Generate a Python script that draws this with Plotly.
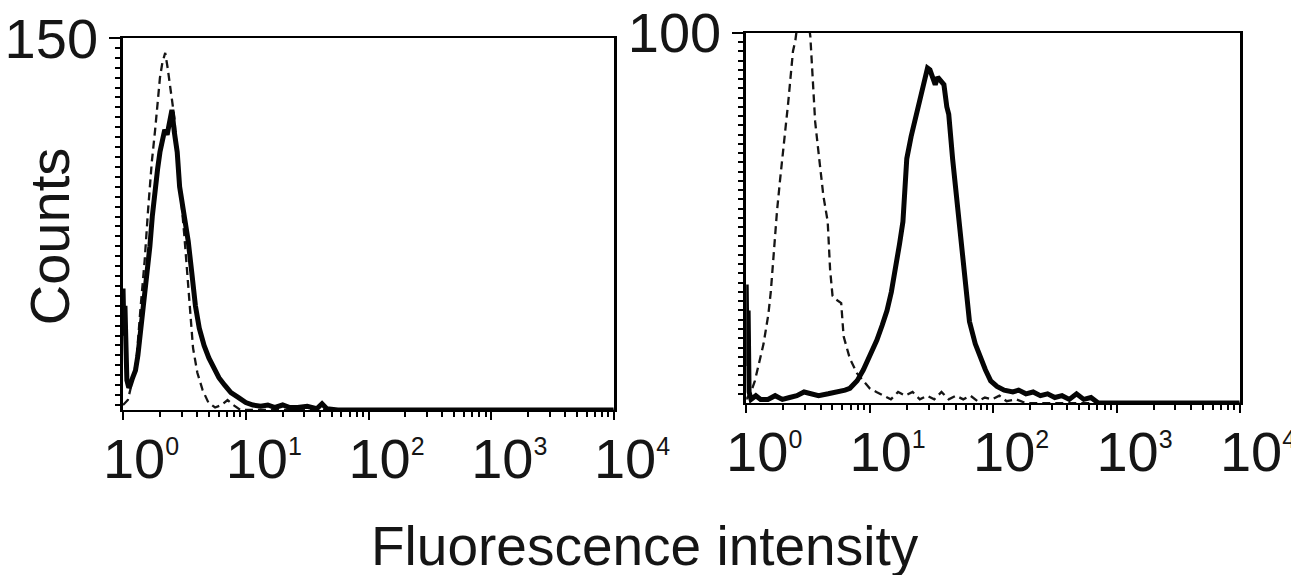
import numpy as np
import plotly.graph_objects as go

# Flow-cytometry histograms on a 4-decade log scale (1024 channels -> 10^0 .. 10^4)
# Each series is given as channel numbers and counts.

# Left panel
left_stained_ch = [0, 2, 4, 6, 8, 12, 15, 20, 26, 31, 36, 41, 46, 51, 56, 61, 67, 72, 77, 82,
                   87, 92, 97, 102, 107, 113, 118, 123, 128, 136, 143, 151, 159, 169, 179, 189,
                   200, 212, 225, 241, 256, 271, 287, 302, 317, 333, 348, 364, 384, 404, 415,
                   425, 448, 1023]
left_stained_counts = [49, 30, 42, 18, 12, 9, 10, 13, 16, 22, 30, 40, 47, 55, 66, 78, 90, 97, 104, 108,
                       113, 111, 116, 121, 112, 104, 90, 84, 77, 68, 56, 42, 33, 26, 21, 17,
                       13, 10, 7, 5, 3, 2, 1.5, 2, 1, 2, 1, 1, 1.5, 0.5, 2.5,
                       0.5, 0, 0]

left_control_ch = [0, 10, 20, 28, 36, 45, 52, 60, 67, 72, 77, 82, 88, 93, 97, 102, 107, 112, 116,
                   122, 128, 134, 140, 146, 155, 166, 178, 192, 205, 218, 230, 245, 1023]
left_control_counts = [2, 4, 12, 20, 40, 60, 80, 100, 113, 125, 134, 140, 144, 138, 132, 126, 118, 105, 97,
                       84, 70, 55, 40, 25, 15, 8, 3, 1, 2, 4, 2, 0, 0]

# Right panel
right_stained_ch = [0, 2, 4, 6, 10, 20, 30, 45, 60, 75, 90, 105, 120, 135, 150, 170, 190, 205, 215,
                    230, 243, 257, 271, 282, 292, 301, 310, 318, 325, 329, 333, 342, 351, 358, 366,
                    371, 376, 381, 386, 392, 397, 403, 410, 416, 420, 428, 438, 451, 463, 475, 486,
                    496, 507, 520, 535, 553, 565, 580, 595, 610, 625, 640, 655, 670, 685, 700, 715,
                    730, 1023]
right_stained_counts = [32, 10, 25, 3, 1, 2, 1, 1, 2, 1, 1.5, 2, 3, 2.5, 2, 2.5, 3, 3.5, 4,
                        6, 9, 13, 17, 21, 25, 30, 36, 43, 49, 58, 66, 72, 77, 81, 85,
                        88, 90.5, 90, 88, 86, 88, 87, 86, 80, 78, 66, 53, 36, 22, 16, 12,
                        9, 6, 4.5, 3.5, 3, 3.5, 2.5, 3, 2, 2.5, 1.5, 2, 1, 2.5, 1, 1.5,
                        0, 0]

right_control_ch = [0, 10, 18, 23, 30, 36, 41, 46, 51, 56, 61, 64, 70, 77, 82, 87, 92, 97, 102, 108,
                    115, 122, 128, 133, 136, 140, 143, 148, 154, 160, 169, 174, 179, 186, 197, 202,
                    215, 230, 243, 256, 270, 285, 300, 315, 330, 345, 360, 375, 390, 405, 420, 435,
                    450, 465, 480, 495, 510, 525, 540, 560, 580, 1023]
right_control_counts = [1, 3, 6, 9, 13, 16, 20, 24, 30, 39, 46, 52, 60, 68, 75, 81, 88, 95, 98, 104,
                        106, 105, 104, 99, 92, 84, 76, 70, 63, 56, 49, 36, 29, 28, 27, 18,
                        12, 8, 6, 4, 3, 2, 1, 3, 2, 3, 1, 2, 1, 3, 1, 2,
                        1, 2, 0.5, 1.5, 1, 2, 0.5, 1, 0, 0]

decades = [0, 1, 2, 3, 4]
left_ymax, right_ymax = 150, 100


def to_intensity(ch):
    return 10 ** (np.asarray(ch, dtype=float) / 256.0)


FONT = "Liberation Sans, Arial, sans-serif"
INK = "#151515"

decade_labels = ["10<sup><span style='font-size:25px'>%d</span></sup>" % d for d in decades]

fig = go.Figure()
solid = dict(color="#050505", width=5.0)
dashed = dict(color="#151515", width=2.3, dash="8px,5px")

fig.add_trace(go.Scatter(x=to_intensity(left_control_ch), y=left_control_counts, mode="lines",
                         line=dashed, xaxis="x", yaxis="y", showlegend=False))
fig.add_trace(go.Scatter(x=to_intensity(left_stained_ch), y=left_stained_counts, mode="lines",
                         line=solid, xaxis="x", yaxis="y", showlegend=False))
fig.add_trace(go.Scatter(x=to_intensity(right_control_ch), y=right_control_counts, mode="lines",
                         line=dashed, xaxis="x2", yaxis="y2", showlegend=False))
fig.add_trace(go.Scatter(x=to_intensity(right_stained_ch), y=right_stained_counts, mode="lines",
                         line=solid, xaxis="x2", yaxis="y2", showlegend=False))

major_x = [10 ** d for d in decades]
minor_x = [m * 10 ** d for d in decades[:-1] for m in range(2, 10)]


def xaxis(domain, anchor):
    return dict(domain=domain, anchor=anchor, type="log", range=[0, 4], automargin=False,
                showline=True, linewidth=2.2, linecolor="black", mirror=True,
                showgrid=False, zeroline=False,
                ticks="outside", ticklen=8, tickwidth=1.6, tickcolor="black",
                tickmode="array", tickvals=major_x, ticktext=decade_labels,
                ticklabelshift=18, ticklabelstandoff=-9, ticklabeloverflow="allow",
                tickfont=dict(family=FONT, size=56, color=INK),
                minor=dict(tickmode="array", tickvals=minor_x, ticks="outside",
                           ticklen=5, tickwidth=1.6, tickcolor="black", showgrid=False))


def yaxis(domain, anchor, ymax, step):
    minor_y = list(np.arange(ymax - step, 0, -step))
    return dict(domain=domain, anchor=anchor, range=[0, ymax], automargin=False,
                showline=True, linewidth=2.6, linecolor="black", mirror=True,
                showgrid=False, zeroline=False,
                ticks="outside", ticklen=11, tickwidth=1.8, tickcolor="black",
                tickmode="array", tickvals=[ymax], ticktext=[str(ymax)],
                tickfont=dict(family=FONT, size=56, color=INK),
                minor=dict(tickmode="array", tickvals=minor_y, ticks="outside",
                           ticklen=5, tickwidth=1.6, tickcolor="black", showgrid=False))


fig.update_layout(
    width=1291, height=575,
    margin=dict(l=0, r=0, t=0, b=0, autoexpand=False),
    paper_bgcolor="white", plot_bgcolor="white",
    xaxis=xaxis([0.0953, 0.4756], "y"),
    yaxis=yaxis([0.287, 0.934], "x", left_ymax, 4),
    xaxis2=xaxis([0.578, 0.9605], "y2"),
    yaxis2=yaxis([0.299, 0.943], "x2", right_ymax, 2.5),
    annotations=[
        dict(text="Counts", x=0.039, y=0.588, xref="paper", yref="paper", textangle=-90,
             xanchor="center", yanchor="middle",
             showarrow=False, font=dict(family=FONT, size=56, color=INK)),
        dict(text="Fluorescence intensity", x=0.4996, y=0.05, xref="paper", yref="paper",
             xanchor="center", yanchor="middle",
             showarrow=False, font=dict(family=FONT, size=55, color=INK)),
    ],
)

fig.write_html("out.html")
